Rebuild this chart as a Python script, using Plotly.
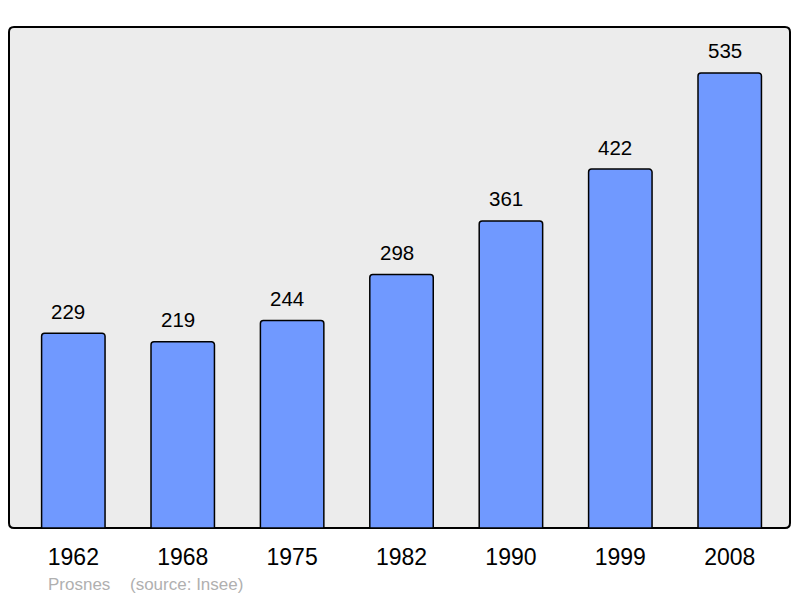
import plotly.graph_objects as go

years = ["1962", "1968", "1975", "1982", "1990", "1999", "2008"]
population = [229, 219, 244, 298, 361, 422, 535]
footer_place = "Prosnes"
footer_source = "(source: Insee)"

# page has an 8px body margin, so the figure is drawn 8px in from the top-left
OFF = 8
W, H = 800 - OFF, 598 - OFF
L, R, T, B = 9 - OFF, 10, 27 - OFF, 70
pw, ph = W - L - R, H - T - B
FONT = "Liberation Sans, Arial, sans-serif"

xpos = list(range(len(years)))

fig = go.Figure()
fig.add_trace(go.Bar(
    x=xpos, y=population, width=0.58,
    marker=dict(color="#7099ff", line=dict(color="#000000", width=1.5), cornerradius=3),
    hoverinfo="skip",
))

for xi, v in zip(xpos, population):
    fig.add_annotation(x=xi, y=v, text=str(v), showarrow=False, yanchor="middle",
                       xshift=-5, yshift=22, font=dict(family=FONT, size=20.5, color="#000"))

# rounded frame
r = 5
rx, ry = r / pw, r / ph
path = (f"M {rx},0 L {1-rx},0 Q 1,0 1,{ry} L 1,{1-ry} Q 1,1 {1-rx},1 "
        f"L {rx},1 Q 0,1 0,{1-ry} L 0,{ry} Q 0,0 {rx},0 Z")
fig.add_shape(type="path", path=path, xref="paper", yref="paper",
              fillcolor="#ececec", line=dict(color="#000000", width=2), layer="below")

def px2paper(px):
    return (px - 9) / pw

fy = -(584 - 528) / ph
fig.add_annotation(x=px2paper(46), y=fy, xref="paper", yref="paper",
                   text=footer_place, showarrow=False, xanchor="left", yanchor="middle",
                   font=dict(family=FONT, size=17, color="#b0b0b0"))
fig.add_annotation(x=px2paper(128), y=fy, xref="paper", yref="paper",
                   text=footer_source, showarrow=False, xanchor="left", yanchor="middle",
                   font=dict(family=FONT, size=17, color="#b0b0b0"))

fig.update_layout(
    width=W, height=H,
    margin=dict(l=L, r=R, t=T, b=B, pad=0),
    paper_bgcolor="white", plot_bgcolor="rgba(0,0,0,0)",
    showlegend=False,
    xaxis=dict(range=[-0.588, 6.551], tickvals=xpos, ticktext=years,
               showgrid=False, zeroline=False, showline=False,
               ticks="outside", ticklen=8, tickcolor="rgba(0,0,0,0)",
               tickfont=dict(family=FONT, size=23, color="#000"),
               fixedrange=True),
    yaxis=dict(range=[0, 589], visible=False, fixedrange=True),
)

fig.write_html("out.html")
